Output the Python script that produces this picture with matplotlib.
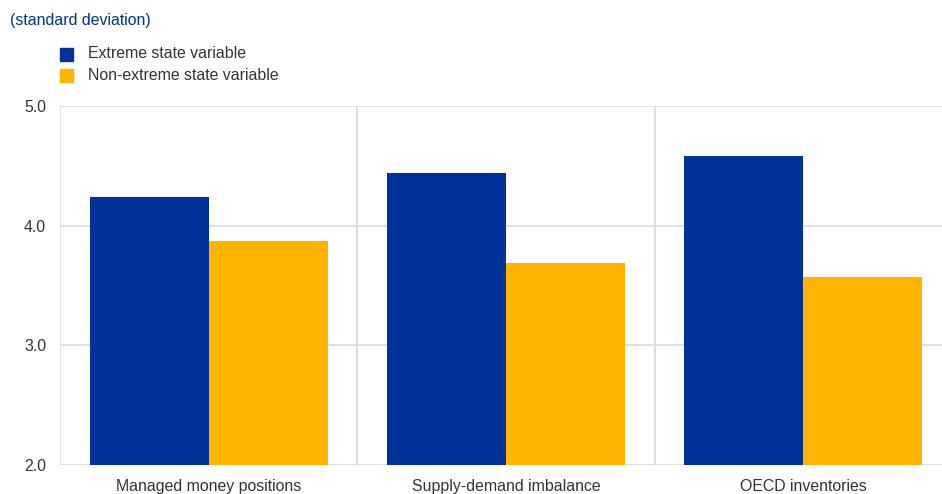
import matplotlib.pyplot as plt
import numpy as np

plt.rcParams['font.family'] = ['Liberation Sans', 'DejaVu Sans']

categories = ['Managed money positions', 'Supply-demand imbalance', 'OECD inventories']
extreme = [4.24, 4.44, 4.585]
non_extreme = [3.875, 3.69, 3.575]
series_names = ['Extreme state variable', 'Non-extreme state variable']
colors = ['#003299', '#FFB400']
y_ticks = [2.0, 3.0, 4.0, 5.0]

fig = plt.figure(figsize=(9.42, 4.94), dpi=100)
# plot area runs a bit past the right edge, like the original
ax = fig.add_axes([60 / 942, 1 - 465 / 494, 892 / 942, 359 / 494])

x = np.arange(len(categories))
w = 0.4
ax.bar(x - w / 2, extreme, width=w, color=colors[0], zorder=3)
ax.bar(x + w / 2, non_extreme, width=w, color=colors[1], zorder=3)

ax.set_xlim(-0.5, len(categories) - 0.5)
ax.set_ylim(2.0, 5.0)
ax.set_yticks(y_ticks)
ax.set_yticklabels([f'{v:.1f}' for v in y_ticks])
ax.set_xticks(x)
ax.set_xticklabels(categories)
ax.tick_params(axis='both', length=0, labelsize=11.4, colors='#333333')
ax.tick_params(axis='x', pad=10)
ax.tick_params(axis='y', pad=10)

# grid lines
for v in y_ticks:
    ax.axhline(v, color='#d9d9d9', lw=1.2, zorder=1)
for b in np.arange(len(categories) + 1) - 0.5:
    ax.axvline(b, color='#d9d9d9', lw=1.2, zorder=1)
for s in ax.spines.values():
    s.set_visible(False)

fig.text(10 / 942, 1 - 21 / 494, '(standard deviation)', color='#003299',
         fontsize=11.4, va='center')

# legend
for i, (name, c) in enumerate(zip(series_names, colors)):
    yc = 1 - (54 + i * 21) / 494
    fig.patches.append(plt.Rectangle((60 / 942, yc - 6.5 / 494), 13 / 942, 13 / 494,
                                     transform=fig.transFigure, color=c))
    fig.text(88 / 942, yc, name, fontsize=11.4, color='#333333', va='center')

fig.savefig('out.png', dpi=100)
